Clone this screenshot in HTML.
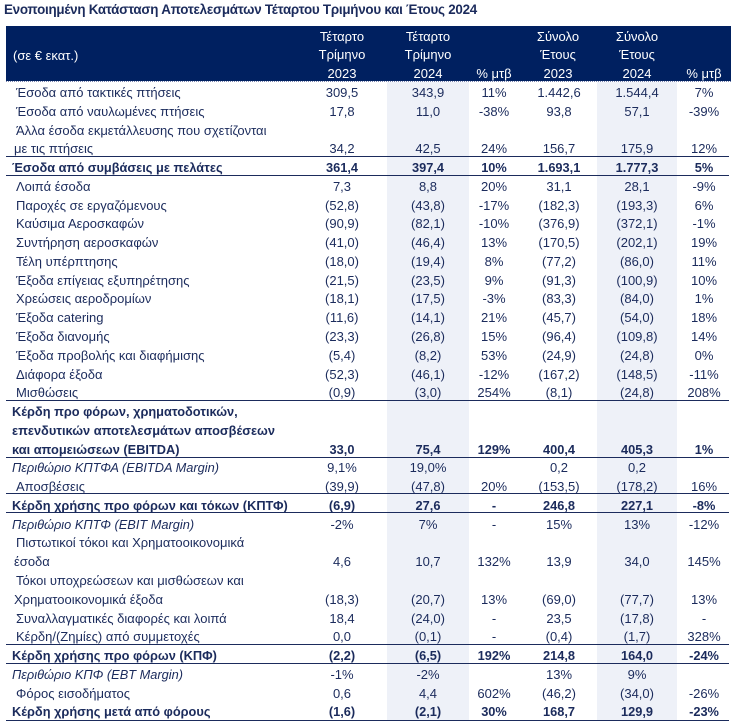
<!DOCTYPE html>
<html><head><meta charset="utf-8">
<style>
html,body{margin:0;padding:0;background:#fff;}
#c{position:relative;width:731px;height:724px;overflow:hidden;background:#fff;font-family:"Liberation Sans","Noto Sans CJK SC",sans-serif;color:#1b2b5c;}
.t{position:absolute;left:4px;top:2px;font-weight:bold;font-size:13.4px;line-height:16px;color:#1b2b5c;white-space:nowrap;letter-spacing:-0.25px;}
.band{position:absolute;left:6px;top:26px;width:725px;height:55px;background:#002060;}
.dot{position:absolute;left:6px;top:81px;width:725px;height:0;border-top:1px dotted #7a86b0;}
.h{position:absolute;color:#fff;font-size:13px;line-height:18.3px;text-align:center;white-space:nowrap;}
.sh{position:absolute;top:82px;height:639px;background:#eef1f8;}
.r{position:absolute;left:0;width:731px;height:18.77px;font-size:13px;line-height:21px;white-space:nowrap;}
.r span{position:absolute;top:0;}
.r .l{left:16px;}
.r .v{width:80px;text-align:center;}
.b{font-weight:bold;font-size:12.8px;}
.b .l{left:12px;}
.i .l{font-style:italic;left:12px;font-size:12.8px;}
.ln{position:absolute;left:6px;width:723px;height:1px;background:#1b2b5c;}
</style></head><body>
<div id="c">
<div class="t">Ενοποιημένη Κατάσταση Αποτελεσμάτων Τέταρτου Τριμήνου και Έτους 2024</div>
<div class="band"></div>
<div class="dot"></div>
<div class="h" style="left:13px;top:47px;text-align:left;">(σε € εκατ.)</div>
<div class="h" style="left:297px;width:90px;top:28px;">Τέταρτο<br>Τρίμηνο<br>2023</div>
<div class="h" style="left:387px;width:82px;top:28px;">Τέταρτο<br>Τρίμηνο<br>2024</div>
<div class="h" style="left:469px;width:50px;top:28px;">&nbsp;<br>&nbsp;<br>% μτβ</div>
<div class="h" style="left:519px;width:78px;top:28px;">Σύνολο<br>Έτους<br>2023</div>
<div class="h" style="left:597px;width:80px;top:28px;">Σύνολο<br>Έτους<br>2024</div>
<div class="h" style="left:677px;width:54px;top:28px;">&nbsp;<br>&nbsp;<br>% μτβ</div>
<div class="sh" style="left:387px;width:82px;"></div>
<div class="sh" style="left:597px;width:80px;"></div>

<div class="r" style="top:82px"><span class="l">Έσοδα από τακτικές πτήσεις</span><span class="v" style="left:302px">309,5</span><span class="v" style="left:388px">343,9</span><span class="v" style="left:454px">11%</span><span class="v" style="left:519px">1.442,6</span><span class="v" style="left:597px">1.544,4</span><span class="v" style="left:664px">7%</span></div>
<div class="r" style="top:100.77px"><span class="l">Έσοδα από ναυλωμένες πτήσεις</span><span class="v" style="left:302px">17,8</span><span class="v" style="left:388px">11,0</span><span class="v" style="left:454px">-38%</span><span class="v" style="left:519px">93,8</span><span class="v" style="left:597px">57,1</span><span class="v" style="left:664px">-39%</span></div>
<div class="r" style="top:119.54px"><span class="l">Άλλα έσοδα εκμετάλλευσης που σχετίζονται</span></div>
<div class="r" style="top:138.31px"><span class="l" style="left:14px">με τις πτήσεις</span><span class="v" style="left:302px">34,2</span><span class="v" style="left:388px">42,5</span><span class="v" style="left:454px">24%</span><span class="v" style="left:519px">156,7</span><span class="v" style="left:597px">175,9</span><span class="v" style="left:664px">12%</span></div>
<div class="r b" style="top:157.08px"><span class="l">Έσοδα από συμβάσεις με πελάτες</span><span class="v" style="left:302px">361,4</span><span class="v" style="left:388px">397,4</span><span class="v" style="left:454px">10%</span><span class="v" style="left:519px">1.693,1</span><span class="v" style="left:597px">1.777,3</span><span class="v" style="left:664px">5%</span></div>
<div class="r" style="top:175.85px"><span class="l">Λοιπά έσοδα</span><span class="v" style="left:302px">7,3</span><span class="v" style="left:388px">8,8</span><span class="v" style="left:454px">20%</span><span class="v" style="left:519px">31,1</span><span class="v" style="left:597px">28,1</span><span class="v" style="left:664px">-9%</span></div>
<div class="r" style="top:194.62px"><span class="l">Παροχές σε εργαζόμενους</span><span class="v" style="left:302px">(52,8)</span><span class="v" style="left:388px">(43,8)</span><span class="v" style="left:454px">-17%</span><span class="v" style="left:519px">(182,3)</span><span class="v" style="left:597px">(193,3)</span><span class="v" style="left:664px">6%</span></div>
<div class="r" style="top:213.39px"><span class="l">Καύσιμα Αεροσκαφών</span><span class="v" style="left:302px">(90,9)</span><span class="v" style="left:388px">(82,1)</span><span class="v" style="left:454px">-10%</span><span class="v" style="left:519px">(376,9)</span><span class="v" style="left:597px">(372,1)</span><span class="v" style="left:664px">-1%</span></div>
<div class="r" style="top:232.16px"><span class="l">Συντήρηση αεροσκαφών</span><span class="v" style="left:302px">(41,0)</span><span class="v" style="left:388px">(46,4)</span><span class="v" style="left:454px">13%</span><span class="v" style="left:519px">(170,5)</span><span class="v" style="left:597px">(202,1)</span><span class="v" style="left:664px">19%</span></div>
<div class="r" style="top:250.93px"><span class="l">Τέλη υπέρπτησης</span><span class="v" style="left:302px">(18,0)</span><span class="v" style="left:388px">(19,4)</span><span class="v" style="left:454px">8%</span><span class="v" style="left:519px">(77,2)</span><span class="v" style="left:597px">(86,0)</span><span class="v" style="left:664px">11%</span></div>
<div class="r" style="top:269.7px"><span class="l">Έξοδα επίγειας εξυπηρέτησης</span><span class="v" style="left:302px">(21,5)</span><span class="v" style="left:388px">(23,5)</span><span class="v" style="left:454px">9%</span><span class="v" style="left:519px">(91,3)</span><span class="v" style="left:597px">(100,9)</span><span class="v" style="left:664px">10%</span></div>
<div class="r" style="top:288.47px"><span class="l">Χρεώσεις αεροδρομίων</span><span class="v" style="left:302px">(18,1)</span><span class="v" style="left:388px">(17,5)</span><span class="v" style="left:454px">-3%</span><span class="v" style="left:519px">(83,3)</span><span class="v" style="left:597px">(84,0)</span><span class="v" style="left:664px">1%</span></div>
<div class="r" style="top:307.24px"><span class="l">Έξοδα catering</span><span class="v" style="left:302px">(11,6)</span><span class="v" style="left:388px">(14,1)</span><span class="v" style="left:454px">21%</span><span class="v" style="left:519px">(45,7)</span><span class="v" style="left:597px">(54,0)</span><span class="v" style="left:664px">18%</span></div>
<div class="r" style="top:326.01px"><span class="l">Έξοδα διανομής</span><span class="v" style="left:302px">(23,3)</span><span class="v" style="left:388px">(26,8)</span><span class="v" style="left:454px">15%</span><span class="v" style="left:519px">(96,4)</span><span class="v" style="left:597px">(109,8)</span><span class="v" style="left:664px">14%</span></div>
<div class="r" style="top:344.78px"><span class="l">Έξοδα προβολής και διαφήμισης</span><span class="v" style="left:302px">(5,4)</span><span class="v" style="left:388px">(8,2)</span><span class="v" style="left:454px">53%</span><span class="v" style="left:519px">(24,9)</span><span class="v" style="left:597px">(24,8)</span><span class="v" style="left:664px">0%</span></div>
<div class="r" style="top:363.55px"><span class="l">Διάφορα έξοδα</span><span class="v" style="left:302px">(52,3)</span><span class="v" style="left:388px">(46,1)</span><span class="v" style="left:454px">-12%</span><span class="v" style="left:519px">(167,2)</span><span class="v" style="left:597px">(148,5)</span><span class="v" style="left:664px">-11%</span></div>
<div class="r" style="top:382.32px"><span class="l">Μισθώσεις</span><span class="v" style="left:302px">(0,9)</span><span class="v" style="left:388px">(3,0)</span><span class="v" style="left:454px">254%</span><span class="v" style="left:519px">(8,1)</span><span class="v" style="left:597px">(24,8)</span><span class="v" style="left:664px">208%</span></div>
<div class="r b" style="top:401.09px"><span class="l">Κέρδη προ φόρων, χρηματοδοτικών,</span></div>
<div class="r b" style="top:419.86px"><span class="l">επενδυτικών αποτελεσμάτων αποσβέσεων</span></div>
<div class="r b" style="top:438.63px"><span class="l">και απομειώσεων (EBITDA)</span><span class="v" style="left:302px">33,0</span><span class="v" style="left:388px">75,4</span><span class="v" style="left:454px">129%</span><span class="v" style="left:519px">400,4</span><span class="v" style="left:597px">405,3</span><span class="v" style="left:664px">1%</span></div>
<div class="r i" style="top:457.4px"><span class="l">Περιθώριο ΚΠΤΦΑ (EBITDA Margin)</span><span class="v" style="left:302px">9,1%</span><span class="v" style="left:388px">19,0%</span><span class="v" style="left:519px">0,2</span><span class="v" style="left:597px">0,2</span></div>
<div class="r" style="top:476.17px"><span class="l">Αποσβέσεις</span><span class="v" style="left:302px">(39,9)</span><span class="v" style="left:388px">(47,8)</span><span class="v" style="left:454px">20%</span><span class="v" style="left:519px">(153,5)</span><span class="v" style="left:597px">(178,2)</span><span class="v" style="left:664px">16%</span></div>
<div class="r b" style="top:494.94px"><span class="l">Κέρδη χρήσης προ φόρων και τόκων (ΚΠΤΦ)</span><span class="v" style="left:302px">(6,9)</span><span class="v" style="left:388px">27,6</span><span class="v" style="left:454px">-</span><span class="v" style="left:519px">246,8</span><span class="v" style="left:597px">227,1</span><span class="v" style="left:664px">-8%</span></div>
<div class="r i" style="top:513.71px"><span class="l">Περιθώριο ΚΠΤΦ (EBIT Margin)</span><span class="v" style="left:302px">-2%</span><span class="v" style="left:388px">7%</span><span class="v" style="left:454px">-</span><span class="v" style="left:519px">15%</span><span class="v" style="left:597px">13%</span><span class="v" style="left:664px">-12%</span></div>
<div class="r" style="top:532.48px"><span class="l">Πιστωτικοί τόκοι και Χρηματοοικονομικά</span></div>
<div class="r" style="top:551.25px"><span class="l" style="left:14px">έσοδα</span><span class="v" style="left:302px">4,6</span><span class="v" style="left:388px">10,7</span><span class="v" style="left:454px">132%</span><span class="v" style="left:519px">13,9</span><span class="v" style="left:597px">34,0</span><span class="v" style="left:664px">145%</span></div>
<div class="r" style="top:570.02px"><span class="l">Τόκοι υποχρεώσεων και μισθώσεων και</span></div>
<div class="r" style="top:588.79px"><span class="l" style="left:14px">Χρηματοοικονομικά έξοδα</span><span class="v" style="left:302px">(18,3)</span><span class="v" style="left:388px">(20,7)</span><span class="v" style="left:454px">13%</span><span class="v" style="left:519px">(69,0)</span><span class="v" style="left:597px">(77,7)</span><span class="v" style="left:664px">13%</span></div>
<div class="r" style="top:607.56px"><span class="l">Συναλλαγματικές διαφορές και λοιπά</span><span class="v" style="left:302px">18,4</span><span class="v" style="left:388px">(24,0)</span><span class="v" style="left:454px">-</span><span class="v" style="left:519px">23,5</span><span class="v" style="left:597px">(17,8)</span><span class="v" style="left:664px">-</span></div>
<div class="r" style="top:626.33px"><span class="l">Κέρδη/(Ζημίες) από συμμετοχές</span><span class="v" style="left:302px">0,0</span><span class="v" style="left:388px">(0,1)</span><span class="v" style="left:454px">-</span><span class="v" style="left:519px">(0,4)</span><span class="v" style="left:597px">(1,7)</span><span class="v" style="left:664px">328%</span></div>
<div class="r b" style="top:645.1px"><span class="l">Κέρδη χρήσης προ φόρων (ΚΠΦ)</span><span class="v" style="left:302px">(2,2)</span><span class="v" style="left:388px">(6,5)</span><span class="v" style="left:454px">192%</span><span class="v" style="left:519px">214,8</span><span class="v" style="left:597px">164,0</span><span class="v" style="left:664px">-24%</span></div>
<div class="r i" style="top:663.87px"><span class="l">Περιθώριο ΚΠΦ (EBT Margin)</span><span class="v" style="left:302px">-1%</span><span class="v" style="left:388px">-2%</span><span class="v" style="left:519px">13%</span><span class="v" style="left:597px">9%</span></div>
<div class="r" style="top:682.64px"><span class="l">Φόρος εισοδήματος</span><span class="v" style="left:302px">0,6</span><span class="v" style="left:388px">4,4</span><span class="v" style="left:454px">602%</span><span class="v" style="left:519px">(46,2)</span><span class="v" style="left:597px">(34,0)</span><span class="v" style="left:664px">-26%</span></div>
<div class="r b" style="top:701.41px"><span class="l">Κέρδη χρήσης μετά από φόρους</span><span class="v" style="left:302px">(1,6)</span><span class="v" style="left:388px">(2,1)</span><span class="v" style="left:454px">30%</span><span class="v" style="left:519px">168,7</span><span class="v" style="left:597px">129,9</span><span class="v" style="left:664px">-23%</span></div>

<div class="ln" style="top:156px"></div>
<div class="ln" style="top:175px"></div>
<div class="ln" style="top:400px"></div>
<div class="ln" style="top:457px"></div>
<div class="ln" style="top:493px"></div>
<div class="ln" style="top:512px"></div>
<div class="ln" style="top:644px"></div>
<div class="ln" style="top:663px"></div>
<div class="ln" style="top:720px"></div>
</div>
</body></html>
